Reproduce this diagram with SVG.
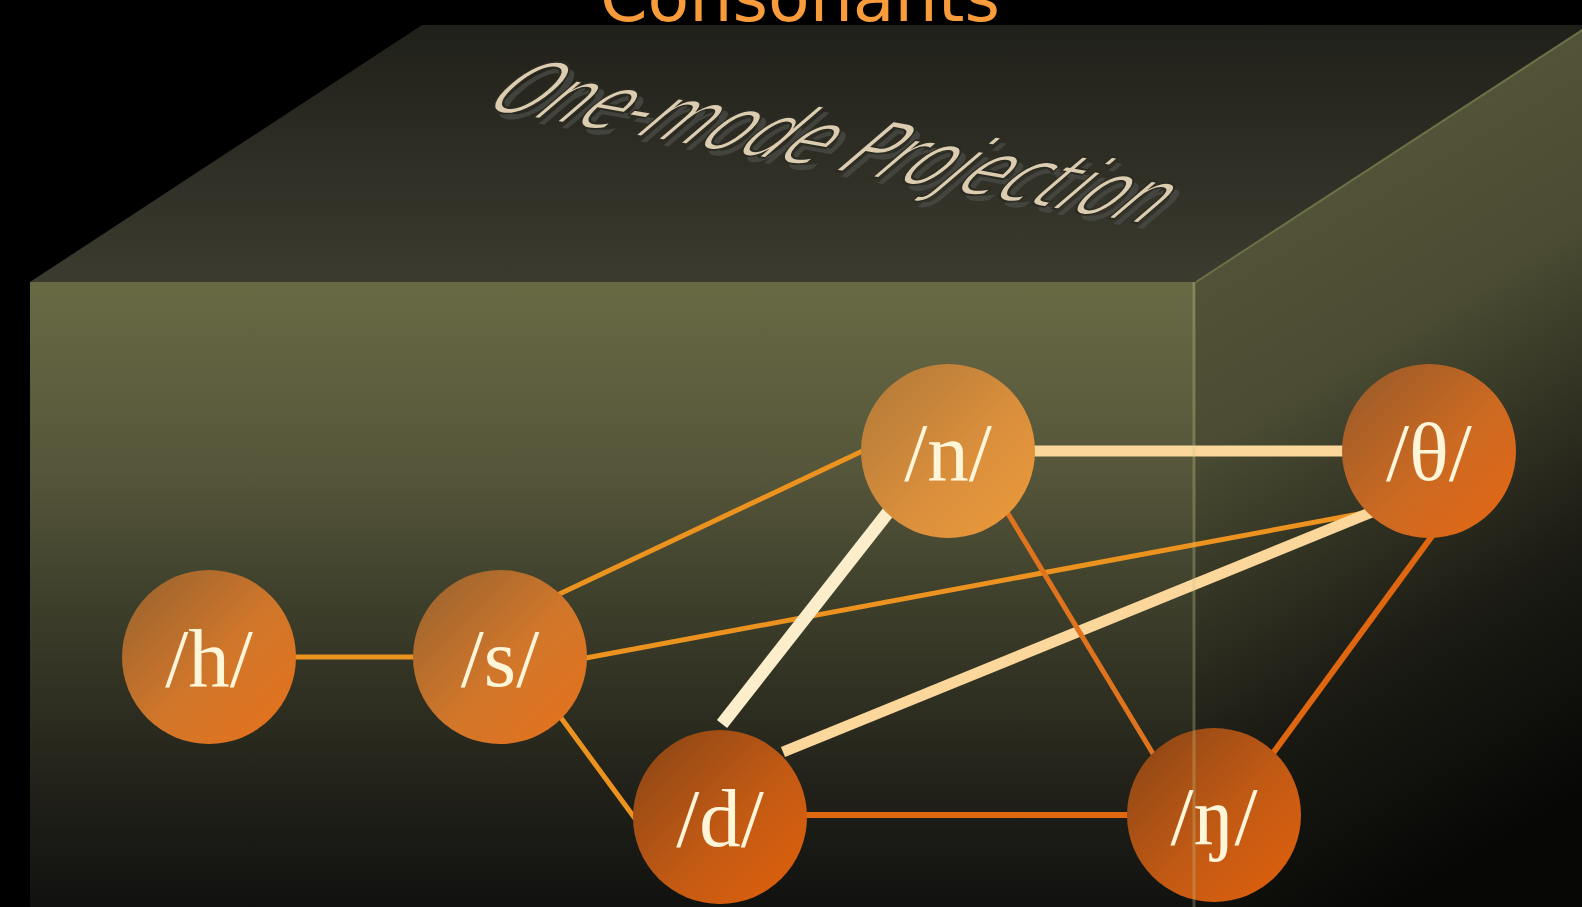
<svg xmlns="http://www.w3.org/2000/svg" width="1582" height="907" viewBox="0 0 1582 907">
  <defs>
    <linearGradient id="gTop" x1="0" y1="25" x2="0" y2="282" gradientUnits="userSpaceOnUse">
      <stop offset="0" stop-color="#20201a"/>
      <stop offset="1" stop-color="#3b3b2f"/>
    </linearGradient>
    <linearGradient id="gFront" x1="0" y1="282" x2="0" y2="907" gradientUnits="userSpaceOnUse">
      <stop offset="0" stop-color="#686a44"/>
      <stop offset="0.3" stop-color="#55563a"/>
      <stop offset="0.55" stop-color="#3a3b28"/>
      <stop offset="0.8" stop-color="#22221a"/>
      <stop offset="1" stop-color="#111110"/>
    </linearGradient>
    <linearGradient id="gRight" x1="1195" y1="150" x2="1582" y2="800" gradientUnits="userSpaceOnUse">
      <stop offset="0" stop-color="#56573a"/>
      <stop offset="0.35" stop-color="#4a4b32"/>
      <stop offset="0.7" stop-color="#1c1c15"/>
      <stop offset="1" stop-color="#060605"/>
    </linearGradient>
    <linearGradient id="nodeA" x1="0" y1="0" x2="1" y2="1">
      <stop offset="0" stop-color="#956230"/>
      <stop offset="0.55" stop-color="#d2772a"/>
      <stop offset="1" stop-color="#e6701a"/>
    </linearGradient>
    <linearGradient id="nodeN" x1="0" y1="0" x2="1" y2="1">
      <stop offset="0" stop-color="#b07838"/>
      <stop offset="0.6" stop-color="#dc903c"/>
      <stop offset="1" stop-color="#ec9a3a"/>
    </linearGradient>
    <linearGradient id="nodeT" x1="0" y1="0" x2="1" y2="1">
      <stop offset="0" stop-color="#94592a"/>
      <stop offset="0.55" stop-color="#cc6a22"/>
      <stop offset="1" stop-color="#e66612"/>
    </linearGradient>
    <linearGradient id="nodeD" x1="0" y1="0" x2="1" y2="1">
      <stop offset="0" stop-color="#874416"/>
      <stop offset="0.55" stop-color="#c25a14"/>
      <stop offset="1" stop-color="#e2600a"/>
    </linearGradient>
    <style>
      .node-label { font-family: "Liberation Serif", "Times New Roman", serif; font-size: 83px; fill: #fff6da; text-anchor: middle; }
      .e { fill: none; stroke-linecap: butt; }
      .orange { stroke: #eb921f; stroke-width: 5; }
      .pale { stroke: #fcd79c; stroke-width: 11; }
      .cream { stroke: #fdeecb; stroke-width: 13; }
      .dark { stroke: #e0741e; stroke-width: 5; }
      .red { stroke: #e0660f; stroke-width: 6; }
      .wa { font-family: "DejaVu Sans", "Liberation Sans", sans-serif; font-size: 104px; }
    </style>
  </defs>

  <rect x="0" y="0" width="1582" height="907" fill="#000"/>

  <g id="box">
    <polygon points="30,282 422,25 1590,25 1195,282" fill="url(#gTop)"/>
    <rect x="30" y="282" width="1165" height="625" fill="url(#gFront)"/>
    <polygon points="1195,282 1590,25 1590,907 1195,907" fill="url(#gRight)"/>
    <line x1="1196" y1="282" x2="1590" y2="25" stroke="#6e7048" stroke-width="2"/>
  </g>

  <g id="title">
    <text x="800" y="21" font-family="DejaVu Sans, Liberation Sans, sans-serif" font-size="68" fill="#f89b3a" text-anchor="middle" textLength="400" lengthAdjust="spacingAndGlyphs">Consonants</text>
  </g>

  <g id="projection-label">
    <text class="wa" transform="matrix(0.985 0.172 -0.76 0.65 483 114)" fill="#4a4a45" fill-opacity="0.8" textLength="675" lengthAdjust="spacingAndGlyphs">One-mode Projection</text>
    <text class="wa" transform="matrix(0.985 0.172 -0.76 0.65 478 108)" fill="#dccdb0" stroke="#2b2b23" stroke-width="2.6" textLength="675" lengthAdjust="spacingAndGlyphs">One-mode Projection</text>
  </g>

  <g id="connectors">
    <line class="e orange" x1="209" y1="657" x2="500" y2="657"/>
    <line class="e orange" x1="553" y1="597" x2="871" y2="447" stroke-width="4"/>
    <line class="e orange" x1="575" y1="660" x2="1375" y2="511" stroke-width="4"/>
    <line class="e orange" x1="556" y1="711" x2="642" y2="828" stroke-width="4"/>
    <line class="e pale" x1="948" y1="451" x2="1429" y2="451"/>
    <line class="e cream" x1="893" y1="506" x2="722" y2="724"/>
    <line class="e pale" x1="1372" y1="512" x2="783" y2="752" stroke-width="10"/>
    <line class="e dark" x1="1004" y1="507" x2="1158" y2="762"/>
    <line class="e red" x1="1435" y1="532" x2="1268" y2="760" stroke-width="5"/>
    <line class="e red" x1="720" y1="815" x2="1214" y2="815"/>
  </g>

  <g id="node-h">
    <circle cx="209" cy="657" r="87" fill="url(#nodeA)"/>
    <text class="node-label" x="209" y="686">/h/</text>
  </g>
  <g id="node-s">
    <circle cx="500" cy="657" r="87" fill="url(#nodeA)"/>
    <text class="node-label" x="500" y="686">/s/</text>
  </g>
  <g id="node-n">
    <circle cx="948" cy="451" r="87" fill="url(#nodeN)"/>
    <text class="node-label" x="948" y="480">/n/</text>
  </g>
  <g id="node-theta">
    <circle cx="1429" cy="451" r="87" fill="url(#nodeT)"/>
    <text class="node-label" x="1429" y="480">/θ/</text>
  </g>
  <g id="node-d">
    <circle cx="720" cy="817" r="87" fill="url(#nodeD)"/>
    <text class="node-label" x="720" y="846">/d/</text>
  </g>
  <g id="node-eng">
    <circle cx="1214" cy="815" r="87" fill="url(#nodeD)"/>
    <text class="node-label" x="1214" y="844">/ŋ/</text>
  </g>

  <g id="box-edge">
    <line x1="1194" y1="282" x2="1194" y2="907" stroke="#c8c890" stroke-opacity="0.3" stroke-width="3"/>
  </g>
</svg>
